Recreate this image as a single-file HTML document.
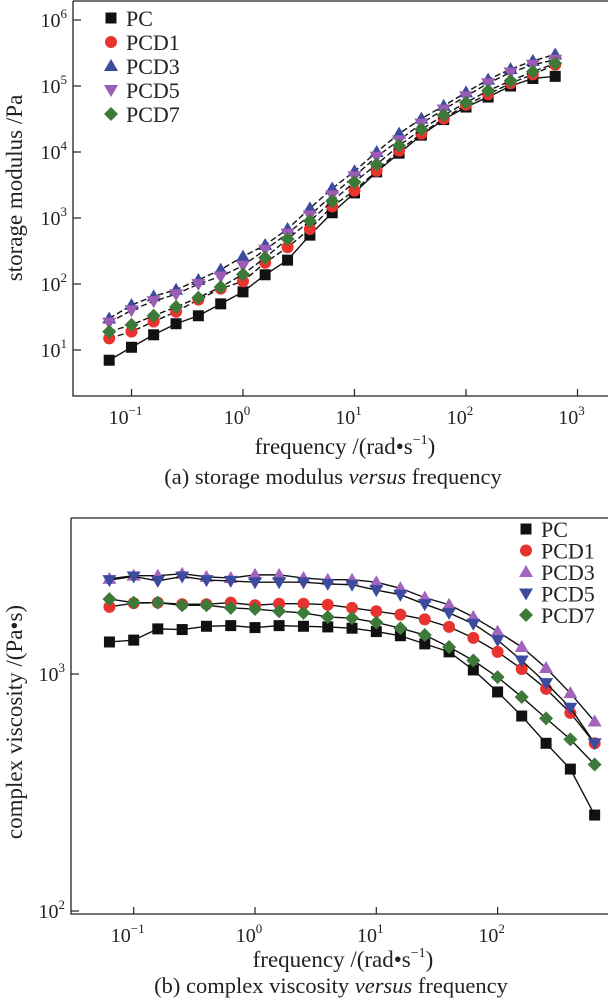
<!DOCTYPE html>
<html><head><meta charset="utf-8"><style>
body{margin:0;background:#fff}
svg{display:block;font-family:"Liberation Serif",serif}
</style></head><body>
<svg id="s" width="609" height="1000"></svg>
<script>
const freq=[0.0631,0.1,0.158,0.251,0.398,0.631,1,1.58,2.51,3.98,6.31,10,15.8,25.1,39.8,63.1,100,158,251,398,631];
const seriesNames=["PC","PCD1","PCD3","PCD5","PCD7"];
const gPC=[7,11,17,25,33,50,76,138,230,550,1200,2400,5000,9600,18000,31000,48000,68000,100000,130000,140000];
const gPCD1=[15,19,27,38,58,85,110,210,360,680,1500,2600,5200,10500,19000,32000,52000,75000,110000,150000,210000];
const gPCD3=[30,48,65,82,115,165,260,390,680,1400,2800,5100,10000,19000,32000,50000,80000,125000,180000,240000,300000];
const gPCD5=[26,40,55,70,100,130,190,330,580,1100,2200,4300,8500,15000,27000,44000,70000,110000,160000,210000,250000];
const gPCD7=[19,24,33,45,62,90,140,250,480,900,1800,3500,6500,12500,22000,36000,56000,85000,120000,165000,220000];
const vPC=[1365,1390,1550,1540,1590,1600,1570,1600,1590,1580,1560,1510,1450,1340,1240,1040,840,665,510,397,254];
const vPCD1=[1920,1990,2000,1970,1970,2000,1950,1980,1980,1960,1900,1840,1780,1700,1580,1420,1240,1050,865,685,510];
const vPCD3=[2520,2600,2600,2650,2570,2540,2620,2620,2540,2500,2500,2440,2300,2100,1960,1740,1510,1300,1060,830,630];
const vPCD5=[2490,2580,2470,2580,2490,2470,2440,2440,2440,2400,2380,2260,2160,1970,1810,1630,1390,1140,915,720,510];
const vPCD7=[2070,2000,2000,1950,1950,1900,1880,1840,1810,1740,1720,1650,1560,1460,1300,1140,970,800,650,530,415];
const xTicks=[-1,0,1,2,3];
const yTicksTop=[1,2,3,4,5,6];
const yTicksBot=[2,3];
const NS="http://www.w3.org/2000/svg";
const svg=document.getElementById('s');
function el(t,a,p){const e=document.createElementNS(NS,t);for(const k in a)e.setAttribute(k,a[k]);(p||svg).appendChild(e);return e;}
const colors={PC:"#111",PCD1:"#e8332f",PCD3:"#3c4b9e",PCD5:"#9a5db3",PCD7:"#3d7a3a"};
const colorsB={PC:"#111",PCD1:"#e8332f",PCD3:"#a264bd",PCD5:"#3c4b9e",PCD7:"#3d7a3a"};
const shapes={PC:"sq",PCD1:"ci",PCD3:"tu",PCD5:"td",PCD7:"di"};
function marker(g,shape,x,y,c){
  let e;
  if(shape==="sq")e=el('rect',{x:x-5.5,y:y-5.5,width:11,height:11,fill:c},g);
  else if(shape==="ci")e=el('circle',{cx:x,cy:y,r:6,fill:c},g);
  else if(shape==="tu")e=el('polygon',{points:`${x},${y-7} ${x-7},${y+5} ${x+7},${y+5}`,fill:c},g);
  else if(shape==="td")e=el('polygon',{points:`${x},${y+7} ${x-7},${y-5} ${x+7},${y-5}`,fill:c},g);
  else e=el('polygon',{points:`${x},${y-7} ${x+7},${y} ${x},${y+7} ${x-7},${y}`,fill:c},g);
  
  
}
function chart(cfg){
  const g=el('g',{});
  
  
  const X=v=>cfg.x0+(Math.log10(v)-cfg.lx0)*cfg.dx;
  const Y=v=>cfg.y0-(Math.log10(v)-cfg.ly0)*cfg.dy;
  const ax=el('path',{d:`M${cfg.left},${cfg.top} V${cfg.bottom} H${cfg.right} M${cfg.left},${cfg.top} H${cfg.right}`,stroke:"#222","stroke-width":1.3,fill:"none"},g);
  
  
  xTicks.forEach(t=>{
    const px=cfg.x0+(t-cfg.lx0)*cfg.dx; if(px>cfg.right)return;
    el('line',{x1:px,x2:px,y1:cfg.bottom,y2:cfg.bottom-7,stroke:"#222","stroke-width":1.2},g);
    const tx=el('text',{x:px-6,y:cfg.bottom+28,"font-size":20,"text-anchor":"middle",fill:"#222"},g);
    
    
    tx.innerHTML=`10<tspan font-size="13" dy="-9">${t<0?'−'+(-t):t}</tspan>`;
  });
  cfg.yt.forEach(t=>{
    const py=cfg.y0-(t-cfg.ly0)*cfg.dy;
    el('line',{x1:cfg.left,x2:cfg.left+8,y1:py,y2:py,stroke:"#222","stroke-width":1.2},g);
    const tx=el('text',{x:cfg.left-6,y:py+7,"font-size":20,"text-anchor":"end",fill:"#222"},g);
    
    
    tx.innerHTML=`10<tspan font-size="13" dy="-9">${t}</tspan>`;
  });
  cfg.data.forEach((arr,i)=>{
    const nm=seriesNames[i];
    const sg=el('g',{},g);
    
    
    const pts=arr.map((v,j)=>[X(freq[j]),Y(v)]);
    el('polyline',{points:pts.map(p=>p.join(',')).join(' '),fill:"none",stroke:"#111","stroke-width":1.4,"stroke-dasharray":cfg.dash(nm)},sg);
    pts.forEach(p=>marker(sg,shapes[nm],p[0],p[1],cfg.col[nm]));
  });
  seriesNames.forEach((nm,i)=>{
    const lg=el('g',{},g);
    
    
    const y=cfg.legY+i*cfg.legDy;
    marker(lg,shapes[nm],cfg.legX,y,cfg.col[nm]);
    const t=el('text',{x:cfg.legX+15,y:y+8,"font-size":22,fill:"#222"},lg);
    t.textContent=nm;
  });
  const xl=el('text',{x:cfg.xlx,y:cfg.xly,"font-size":23,"text-anchor":"middle",fill:"#222"},g);
  
  
  xl.innerHTML='frequency /(rad•s<tspan font-size="14" dy="-10">−1</tspan><tspan dy="10">)</tspan>';
  const yl=el('text',{x:0,y:0,transform:`translate(22,${cfg.ylY}) rotate(-90)`,"font-size":23,"text-anchor":"middle",fill:"#222"},g);
  
  
  yl.textContent=cfg.ylab;
  const cp=el('text',{x:cfg.xlx-12,y:cfg.xly+cfg.capOff,"font-size":22.5,"text-anchor":"middle",fill:"#222"},g);
  
  
  cp.innerHTML=cfg.cap;
}
chart({name:"storage-modulus-chart",left:73,right:608,top:1,bottom:396,x0:243,lx0:0,dx:111.5,y0:350,ly0:1,dy:66,
  yt:yTicksTop,data:[gPC,gPCD1,gPCD3,gPCD5,gPCD7],col:colors,dash:n=>n==="PC"?"none":"6 3",
  legX:111,legY:18,legDy:24,xlx:345,xly:454,capOff:30,ylY:188,ylab:"storage modulus /Pa",
  cap:'(a) storage modulus <tspan font-style="italic">versus</tspan> frequency'});
chart({name:"complex-viscosity-chart",left:71,right:608,top:518,bottom:914,x0:255,lx0:0,dx:121.3,y0:674,ly0:3,dy:237,
  yt:yTicksBot,data:[vPC,vPCD1,vPCD3,vPCD5,vPCD7],col:colorsB,dash:n=>"none",
  legX:526,legY:529,legDy:21.5,xlx:343,xly:967,capOff:26,ylY:722,ylab:"complex viscosity /(Pa•s)",
  cap:'(b) complex viscosity <tspan font-style="italic">versus</tspan> frequency'});
</script>
</body></html>
